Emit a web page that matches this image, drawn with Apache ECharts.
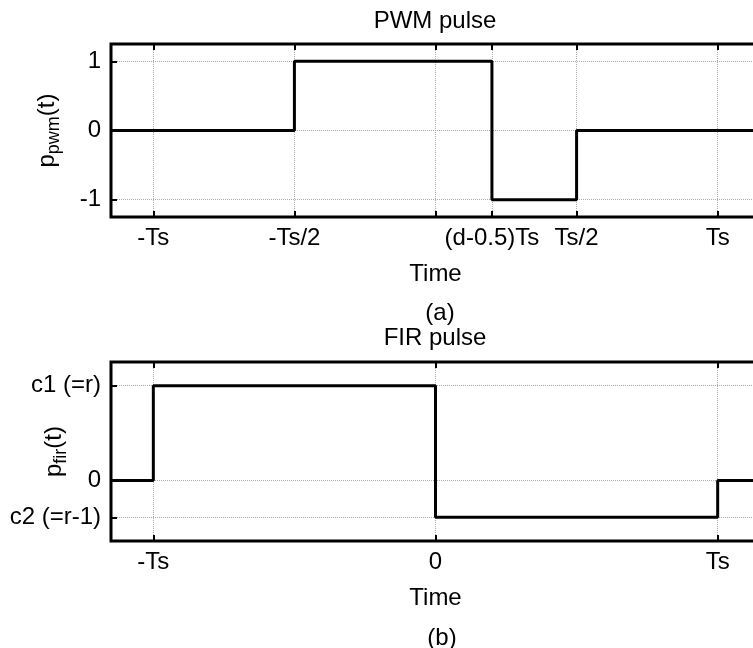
<!DOCTYPE html>
<html><head><meta charset="utf-8">
<script src="https://cdn.jsdelivr.net/npm/echarts@6/dist/echarts.min.js"></script>
<style>html,body{margin:0;padding:0;background:#fff}#c{width:753px;height:648px}</style>
</head><body><div id="c"></div>
<script>
// ---- data ----
const xMin = -1.15, xMax = 1.15;            // time axis range (units of Ts)
const pwmTimes  = [-1.15, -0.5, 0.2, 0.5, 1.15];
const pwmValues = [0, 1, -1, 0, 0];
const firTimes  = [-1.15, -1, 0, 1, 1.15];
const firValues = [0, 0.72, -0.28, 0, 0];

const pwmXTicks  = [-1, -0.5, 0, 0.2, 0.5, 1];
const pwmXLabels = ['-Ts', '-Ts/2', '', '(d-0.5)Ts', 'Ts/2', 'Ts'];
const pwmYTicks  = [-1, 0, 1];
const pwmYLabels = ['-1', '0', '1'];
const firXTicks  = [-1, 0, 1];
const firXLabels = ['-Ts', '0', 'Ts'];
const firYTicks  = [-0.28, 0, 0.72];
const firYLabels = ['c2 (=r-1)', '0', 'c1 (=r)'];

// ---- chart ----
const FONT = 'Liberation Sans, Arial, sans-serif';
const FS = 24;
function lab(vals, labels) {
  return v => { for (let i = 0; i < vals.length; i++) if (Math.abs(vals[i] - v) < 1e-6) return labels[i]; return ''; };
}
function pairs(t, v) { return t.map((x, i) => [x, v[i]]); }
const tickStyle = { show: true, inside: true, length: 6, lineStyle: { color: '#000', width: 2 } };
const splitStyle = { show: true, lineStyle: { color: '#aaa', type: [1, 1], width: 1 } };

function xAxisPair(gi, ticks, labels) {
  return [
    { type: 'value', gridIndex: gi, position: 'bottom', min: xMin, max: xMax,
      axisLine: { show: false, onZero: false },
      axisTick: Object.assign({ customValues: ticks }, tickStyle),
      axisLabel: { customValues: ticks.filter((v, i) => labels[i] !== ''), formatter: lab(ticks, labels),
        color: '#000', fontSize: FS, fontFamily: FONT, margin: 9 },
      splitLine: splitStyle,
      name: 'Time', nameLocation: 'middle', nameGap: 45, nameMoveOverlap: false,
      nameTextStyle: { color: '#000', fontSize: FS, fontFamily: FONT } },
    { type: 'value', gridIndex: gi, position: 'top', min: xMin, max: xMax,
      axisLine: { show: false, onZero: false },
      axisTick: Object.assign({ customValues: ticks }, tickStyle),
      axisLabel: { show: false }, splitLine: { show: false } }
  ];
}
function yAxisDef(gi, min, max, ticks, labels, nameSub, gap) {
  return { type: 'value', gridIndex: gi, min: min, max: max,
    axisLine: { show: false, onZero: false },
    axisTick: Object.assign({ customValues: ticks }, tickStyle),
    axisLabel: { customValues: ticks, formatter: lab(ticks, labels), color: '#000', fontSize: FS, fontFamily: FONT, margin: 10 },
    splitLine: splitStyle,
    name: '{m|p}{s|' + nameSub + '}{m|(t)}', nameLocation: 'middle', nameRotate: 90,
    nameGap: gap, nameMoveOverlap: false,
    nameTextStyle: { rich: {
      m: { fontSize: FS, fontFamily: FONT, color: '#000', verticalAlign: 'middle' },
      s: { fontSize: 18, fontFamily: FONT, color: '#000', verticalAlign: 'bottom', padding: [13, 0, 0, 0] }
    } } };
}

const tStyle = { fontSize: FS, fontWeight: 'normal', color: '#000', fontFamily: FONT };
const chart = echarts.init(document.getElementById('c'), null, { renderer: 'canvas' });
chart.setOption({
  animation: false,
  backgroundColor: '#fff',
  title: [
    { text: 'PWM pulse', left: 430, top: 4, textAlign: 'center', textStyle: tStyle },
    { text: '(a)', left: 435, top: 296, textAlign: 'center', textStyle: tStyle },
    { text: 'FIR pulse', left: 430, top: 321, textAlign: 'center', textStyle: tStyle },
    { text: '(b)', left: 437, top: 621, textAlign: 'center', textStyle: tStyle }
  ],
  grid: [
    { left: 111, top: 44, width: 649, height: 173, show: true, borderColor: '#000', borderWidth: 3,
      backgroundColor: 'transparent', containLabel: false, outerBoundsMode: 'none' },
    { left: 111, top: 362, width: 649, height: 179, show: true, borderColor: '#000', borderWidth: 3,
      backgroundColor: 'transparent', containLabel: false, outerBoundsMode: 'none' }
  ],
  xAxis: xAxisPair(0, pwmXTicks, pwmXLabels).concat(xAxisPair(1, firXTicks, firXLabels)),
  yAxis: [
    yAxisDef(0, -1.25, 1.25, pwmYTicks, pwmYLabels, 'pwm', 48),
    yAxisDef(1, -0.46, 0.90, firYTicks, firYLabels, 'fir', 41)
  ],
  series: [
    { type: 'line', xAxisIndex: 0, yAxisIndex: 0, step: 'end', data: pairs(pwmTimes, pwmValues),
      symbol: 'none', lineStyle: { color: '#000', width: 3 } },
    { type: 'line', xAxisIndex: 2, yAxisIndex: 1, step: 'end', data: pairs(firTimes, firValues),
      symbol: 'none', lineStyle: { color: '#000', width: 3 } }
  ]
});
</script></body></html>
